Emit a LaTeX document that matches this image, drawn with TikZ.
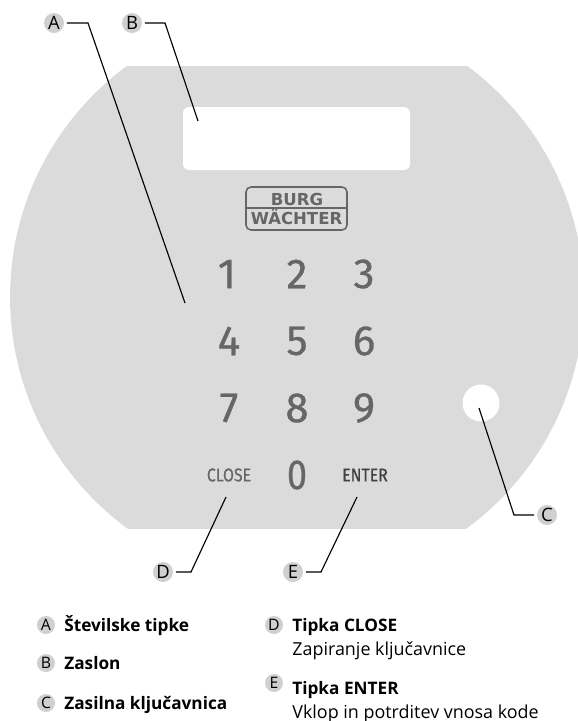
\documentclass[tikz,border=0pt]{standalone}
\usepackage{fontspec}
\setmainfont{Open Sans}
\newfontfamily\keyfont[FakeBold=0.7]{Fira Sans}
\newfontfamily\logofont{DejaVu Sans}
\usepackage{xcolor}
\usetikzlibrary{arrows.meta}
\definecolor{panelgray}{HTML}{DBDBDB}
\definecolor{markgray}{HTML}{D0D0D0}
\definecolor{printgray}{HTML}{666666}
\tikzset{
  callout/.style={circle, fill=markgray, minimum size=0.4cm, inner sep=0pt, outer sep=0.06cm, font=\fontsize{10.5}{12}\selectfont},
  legendmark/.style={circle, fill=markgray, minimum size=0.36cm, inner sep=0pt, font=\fontsize{9}{11}\selectfont},
  leader/.style={line width=0.65pt, black},
  keydigit/.style={text=printgray, font=\fontsize{24}{28}\selectfont\keyfont},
  keyword/.style={text=printgray, font=\fontsize{10.5}{13}\selectfont\keyfont},
  legendtext/.style={anchor=base west, inner sep=0pt, font=\fontsize{10.2}{12}\selectfont},
  legendhead/.style={legendtext, font=\fontsize{9.8}{12}\selectfont\bfseries},
  logotext/.style={text=printgray, inner sep=0pt, font=\fontsize{9.4}{11}\selectfont\logofont\bfseries}
}
\begin{document}
\begin{tikzpicture}[x=0.02cm, y=-0.02cm]
  \useasboundingbox (0,0) rectangle (578,721);

  % Lock panel, cut flat at top and bottom
  \begin{scope}
    \clip (0,66) rectangle (578,528);
    \fill[panelgray] (297,297) circle (5.74cm);
  \end{scope}

  % Display window and emergency lock
  \fill[white, rounded corners=0.12cm] (183,107) rectangle (410,170);
  \fill[white] (481,403) circle (0.37cm);

  % Logo
  \draw[printgray, line width=0.9pt, rounded corners=0.1cm] (246,187) rectangle (347,230);
  \draw[printgray, line width=0.9pt] (246,208) -- (347,208);
  \node[logotext] (logoTop) at (297,199) {BURG};
  \node[logotext] (logoBottom) at (296.5,217) {WÄCHTER};

  % Keypad
  \node[keydigit] (key1) at (227,274) {1};
  \node[keydigit] (key2) at (297,274) {2};
  \node[keydigit] (key3) at (364,274) {3};
  \node[keydigit] (key4) at (229,341) {4};
  \node[keydigit] (key5) at (297,341) {5};
  \node[keydigit] (key6) at (364,341) {6};
  \node[keydigit] (key7) at (229,408) {7};
  \node[keydigit] (key8) at (297,408) {8};
  \node[keydigit] (key9) at (364,408) {9};
  \node[keydigit] (key0) at (297,475) {\scalebox{0.85}[1]{0}};
  \node[keyword] (keyClose) at (229,475) {\scalebox{0.86}[1]{CLOSE}};
  \node[keyword, text=black!75] (keyEnter) at (365,475) {\scalebox{0.86}[1]{ENTER}};

  % Callouts
  \node[callout] (markA) at (54,23) {A};
  \node[callout] (markB) at (132,23) {B};
  \node[callout] (markC) at (547,515) {C};
  \node[callout] (markD) at (163,572) {D};
  \node[callout] (markE) at (293,572) {E};

  \coordinate (kneeA) at (88,23);
  \coordinate (tipA) at (185,303);
  \coordinate (kneeB) at (165,23);
  \coordinate (tipB) at (198,121);
  \coordinate (kneeC) at (514,515);
  \coordinate (tipC) at (479,408);
  \coordinate (kneeD) at (191,572);
  \coordinate (tipD) at (226,497);
  \coordinate (kneeE) at (321,572);
  \coordinate (tipE) at (357,497);

  \draw[leader] (markA) -- (kneeA) -- (tipA);
  \draw[leader] (markB) -- (kneeB) -- (tipB);
  \draw[leader] (markC) -- (kneeC) -- (tipC);
  \draw[leader] (markD) -- (kneeD) -- (tipD);
  \draw[leader] (markE) -- (kneeE) -- (tipE);

  % Legend, left column
  \node[legendmark] (legA) at (46,625) {A};
  \node[legendmark] (legB) at (46,663) {B};
  \node[legendmark] (legC) at (46,703) {C};
  \node[legendhead] (textA) at (64,631) {Številske tipke};
  \node[legendhead] (textB) at (64,669) {Zaslon};
  \node[legendhead] (textC) at (64,709) {Zasilna ključavnica};

  % Legend, right column
  \node[legendmark] (legD) at (274,625) {D};
  \node[legendmark] (legE) at (274,683) {E};
  \node[legendhead] (textD) at (292,631) {Tipka CLOSE};
  \node[legendtext] (textDsub) at (292,655) {Zapiranje ključavnice};
  \node[legendhead] (textE) at (292,694) {Tipka ENTER};
  \node[legendtext] (textEsub) at (292,718) {Vklop in potrditev vnosa kode};
\end{tikzpicture}
\end{document}
